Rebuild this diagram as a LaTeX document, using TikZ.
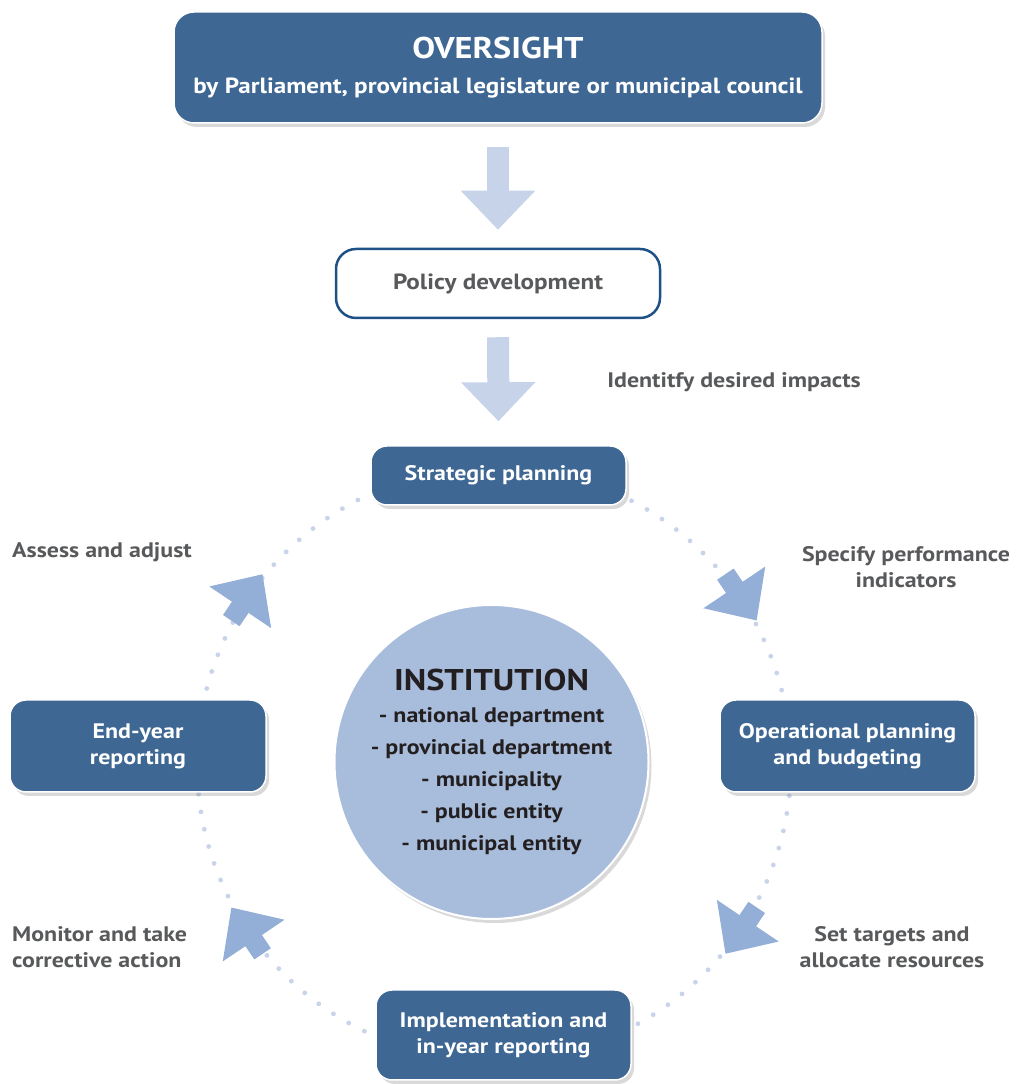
\documentclass[tikz,border=0pt]{standalone}
\usepackage{fontspec}
\setmainfont{PT Sans}[FakeStretch = 1.14]
\usetikzlibrary{arrows.meta,shadows}
\definecolor{boxblue}{HTML}{3E6793}
\definecolor{edgeblue}{HTML}{1E5287}
\definecolor{discblue}{HTML}{A8BCDC}
\definecolor{ringblue}{HTML}{93AFD7}
\definecolor{paleblue}{HTML}{C7D3E9}
\definecolor{dotblue}{HTML}{C9D3EA}
\definecolor{labelgray}{HTML}{58595B}
\definecolor{inkblack}{HTML}{231F20}
\begin{document}
\begin{tikzpicture}[x = 1pt, y = 1pt,
  darkbox/.style = {draw = white, line width = 1.5pt, fill = boxblue, rounded corners = 16pt,
    text = white, align = center, inner sep = 0pt, font = \bfseries\fontsize{21}{26}\selectfont,
    drop shadow = {shadow xshift = 3pt, shadow yshift = -4pt, opacity = 0.3}},
  steplabel/.style = {text = labelgray, align = center, inner sep = 0pt, font = \bfseries\fontsize{21}{26}\selectfont},
  downarrow/.style = {draw = paleblue, line width = 22pt, -{Triangle[width = 72pt, length = 39pt]}},
  ringarrow/.style = {draw = ringblue, line width = 20pt, -{Triangle[width = 72pt, length = 40pt]}}]
\useasboundingbox (0,0) rectangle (1017,1084);
\coordinate (ring) at (494,320);
\foreach \i in {0,...,104}
{
	\fill[dotblue] (ring) ++(\i*3.42857 + 0.7:297) circle (2.4);
}
\node[darkbox, minimum width = 648pt, minimum height = 111pt, rounded corners = 20pt] (over) at (498,1016.5)
  {{\fontsize{30}{32}\selectfont OVERSIGHT}\\[9pt] \fontsize{22}{26}\selectfont by Parliament, provincial legislature or municipal council};
\node[draw = edgeblue, line width = 2.5pt, fill = white, rounded corners = 20pt, minimum width = 324pt, minimum height = 69pt,
  text = labelgray, font = \bfseries\fontsize{22}{26}\selectfont] (policy) at (498,800.5) {Policy development};
\node[darkbox, minimum width = 255pt, minimum height = 59pt] (strat) at (498.5,608.5) {Strategic planning};
\node[darkbox, minimum width = 255pt, minimum height = 92pt] (oper) at (847.5,338) {Operational planning\\and budgeting};
\node[darkbox, minimum width = 255pt, minimum height = 90pt] (impl) at (503.5,49) {Implementation and\\in-year reporting};
\node[darkbox, minimum width = 256pt, minimum height = 92pt] (endyear) at (138,338) {End-year\\reporting};
\node[circle, minimum size = 314pt, inner sep = 0pt, fill = discblue, draw = white, line width = 2pt,
  drop shadow = {shadow xshift = 3pt, shadow yshift = -4pt, opacity = 0.3},
  text = inkblack, align = center, font = \bfseries\fontsize{21}{32}\selectfont] (inst) at (491.5,322)
  {{\fontsize{30}{32}\selectfont INSTITUTION}\\- national department\\- provincial department\\- municipality\\- public entity\\- municipal entity};
\draw[downarrow] ([yshift = -23pt]over.south) -- ([yshift = 18pt]policy.north);
\draw[downarrow] ([yshift = -18pt]policy.south) -- ([yshift = 24pt]strat.north);
\foreach \a in {34,-34,-146,146}
{
	\draw[ringarrow] (ring) ++(\a:298) ++(\a+90:28) -- ++(\a-90:56);
}
\node[steplabel] (impacts) at (734,702) {Identitfy desired impacts};
\node[steplabel] (indicators) at (906,517) {Specify performance\\indicators};
\node[steplabel, anchor = west] (assess) at (12,532) {Assess and adjust};
\node[steplabel, anchor = west, align = left] (monitor) at (12,137) {Monitor and take\\corrective action};
\node[steplabel] (targets) at (892,137) {Set targets and\\allocate resources};
\end{tikzpicture}
\end{document}
